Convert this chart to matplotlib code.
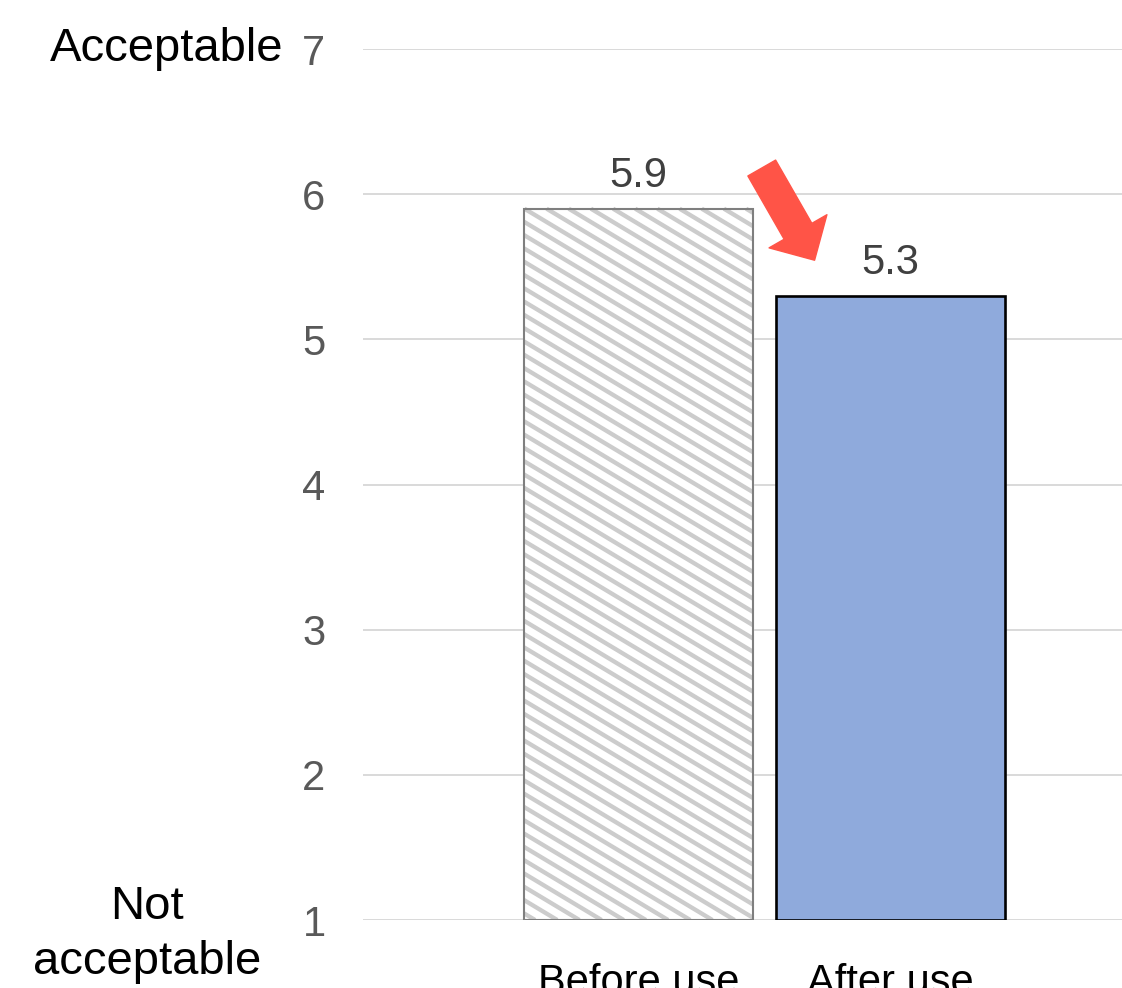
import matplotlib
matplotlib.use("Agg")
import matplotlib.pyplot as plt
import numpy as np
from matplotlib.collections import LineCollection
from matplotlib.patches import FancyArrowPatch
from matplotlib.transforms import IdentityTransform, blended_transform_factory

plt.rcParams['font.family'] = ['Liberation Sans', 'DejaVu Sans']

categories = ['Before use', 'After use']
scores = [5.9, 5.3]
yticks = [1, 2, 3, 4, 5, 6, 7]

fig = plt.figure(figsize=(11.22, 9.88), dpi=100)
ax = fig.add_axes([363 / 1122, 68 / 988, 759 / 1122, 871 / 988])

x = np.arange(len(categories))
base = 1
bars = ax.bar(x, [s - base for s in scores], bottom=base, width=0.91,
              color=['none', '#8faadc'], edgecolor=['#7f7f7f', 'black'],
              linewidth=[1.5, 1.9], zorder=5)

ax.set_xlim(-1.095, 1.922)
ax.set_ylim(1, 7)
ax.set_yticks(yticks)
ax.set_xticks(x)
ax.set_xticklabels(categories, fontsize=30, color='black')
ax.tick_params(axis='y', length=0, pad=27, labelsize=30, labelcolor='#595959')
ax.tick_params(axis='x', length=0, pad=31)
for s in ax.spines.values():
    s.set_visible(False)
ax.grid(axis='y', color='#d9d9d9', linewidth=1.4)
ax.set_axisbelow(True)

# diagonal stripes inside the first bar, cut to the bar rectangle in pixels
bar = bars[0]
px0, py0 = ax.transData.transform((bar.get_x(), bar.get_y()))
px1, py1 = ax.transData.transform((bar.get_x() + bar.get_width(),
                                   bar.get_y() + bar.get_height()))
slope = 0.6
step = 13.3
segs = []
for c in np.arange(py0 + step / 2, py1 + slope * (px1 - px0), step):
    # line: y = c - slope * (x - px0)
    xa = max(px0, px0 + (c - py1) / slope)
    xb = min(px1, px0 + (c - py0) / slope)
    if xb > xa:
        segs.append([(xa, c - slope * (xa - px0)), (xb, c - slope * (xb - px0))])
ax.add_collection(LineCollection(segs, colors='#cccccc', linewidths=3.1,
                                 transform=IdentityTransform(), zorder=4),
                  autolim=False)
ax.add_patch(plt.Rectangle((bar.get_x(), bar.get_y()), bar.get_width(),
                           bar.get_height(), color='white', zorder=3))

# value labels
for xi, s in zip(x, scores):
    ax.annotate(f'{s}', (xi, s), xytext=(0, 9), textcoords='offset points',
                ha='center', va='bottom', fontsize=30, color='#404040')

# arrow showing the drop
arrow = FancyArrowPatch((0.49, scores[0] + 0.28), (0.70, scores[1] + 0.245),
                        arrowstyle='simple,head_length=24,head_width=48,tail_width=23',
                        mutation_scale=1, shrinkA=0, shrinkB=0,
                        color='#ff5447', zorder=6)
ax.add_patch(arrow)

trans = blended_transform_factory(ax.transAxes, ax.transData)
ax.text(-0.105, 7, 'Acceptable', transform=trans, ha='right', va='center',
        fontsize=34, color='black')
ax.text(-0.285, 0.90, 'Not\nacceptable', transform=trans, ha='center',
        va='center', fontsize=34, color='black', linespacing=1.35)

fig.savefig('out.png', dpi=100)
